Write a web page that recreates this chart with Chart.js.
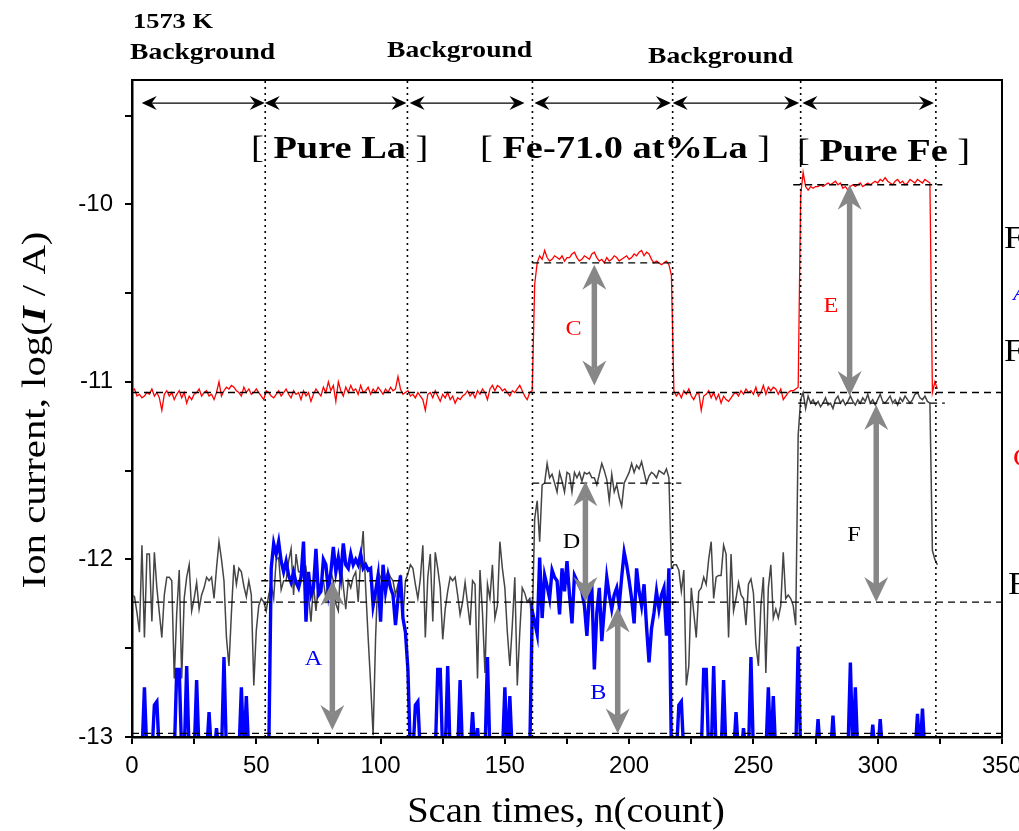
<!DOCTYPE html>
<html>
<head>
<meta charset="utf-8">
<script src="https://cdn.jsdelivr.net/npm/chart.js@4.4.0/dist/chart.umd.min.js"></script>
<style>
  html, body { margin: 0; padding: 0; background: #fff; }
  #wrap { width: 1019px; height: 831px; }
</style>
</head>
<body>
<div id="wrap"><canvas id="ionChart" width="1019" height="831"></canvas></div>
<script>
// log(I/A) per scan, index = scan number (0, 1, 2 ...)
const redCurrent = [
  -11.05,-11.04,-11.08,-11.07,-11.09,-11.08,-11.06,-11.07,-11.04,-11.08,
  -11.06,-11.09,-11.16,-11.07,-11.05,-11.08,-11.06,-11.1,-11.07,-11.05,
  -11.09,-11.06,-11.12,-11.08,-11.1,-11.07,-11.06,-11.04,-11.08,-11.06,
  -11.05,-11.08,-11.07,-11.1,-11.06,-11.0,-11.08,-11.05,-11.03,-11.04,
  -11.02,-11.03,-11.05,-11.06,-11.08,-11.03,-11.06,-11.04,-11.07,-11.06,
  -11.04,-11.06,-11.08,-11.1,-11.05,-11.06,-11.08,-11.09,-11.07,-11.05,
  -11.08,-11.06,-11.04,-11.07,-11.09,-11.05,-11.07,-11.06,-11.1,-11.05,
  -11.08,-11.06,-11.11,-11.07,-11.04,-11.06,-11.08,-11.03,-11.06,-11.0,
  -11.05,-11.02,-11.11,-11.0,-11.05,-11.08,-11.03,-11.06,-11.02,-11.05,
  -11.04,-11.07,-11.02,-11.06,-11.05,-11.03,-11.07,-11.04,-11.06,-11.03,
  -11.05,-11.07,-11.04,-11.06,-11.03,-11.05,-11.04,-10.97,-11.04,-11.07,
  -11.06,-11.05,-11.08,-11.07,-11.09,-11.06,-11.08,-11.1,-11.16,-11.07,
  -11.06,-11.09,-11.05,-11.08,-11.11,-11.07,-11.09,-11.06,-11.1,-11.08,
  -11.12,-11.09,-11.1,-11.08,-11.07,-11.05,-11.08,-11.06,-11.09,-11.05,
  -11.07,-11.04,-11.06,-11.1,-11.04,-11.02,-11.05,-11.02,-11.03,-11.05,
  -11.04,-11.06,-11.08,-11.05,-11.06,-11.04,-11.02,-11.05,-11.08,-11.1,
  -11.06,-11.05,
  -10.45,-10.33,-10.29,-10.31,-10.26,-10.3,-10.32,-10.31,-10.29,-10.3,
  -10.31,-10.29,-10.32,-10.3,-10.3,-10.28,-10.27,-10.3,-10.32,-10.31,
  -10.29,-10.3,-10.31,-10.28,-10.27,-10.3,-10.32,-10.31,-10.33,-10.3,
  -10.32,-10.31,-10.29,-10.3,-10.32,-10.31,-10.3,-10.29,-10.31,-10.3,
  -10.28,-10.29,-10.27,-10.26,-10.29,-10.27,-10.28,-10.31,-10.33,-10.32,
  -10.33,-10.34,-10.33,-10.32,-10.34,-10.4,
  -11.05,-11.08,-11.06,-11.09,-11.05,-11.07,-11.04,-11.08,-11.1,-11.07,
  -11.06,-11.16,-11.08,-11.07,-11.05,-11.09,-11.06,-11.1,-11.07,-11.12,
  -11.08,-11.1,-11.11,-11.09,-11.07,-11.06,-11.08,-11.05,-11.07,-11.04,
  -11.06,-11.05,-11.07,-11.03,-11.08,-11.06,-11.02,-11.07,-11.03,-11.05,
  -11.03,-11.04,-11.07,-11.04,-11.1,-11.08,-11.06,-11.05,-11.05,-11.04,
  -11.03,
  -9.95,
  -9.82,-9.9,-9.92,-9.9,-9.91,-9.9,-9.9,-9.89,-9.9,-9.89,
  -9.88,-9.89,-9.88,-9.87,-9.89,-9.88,-9.91,-9.9,-9.92,-9.9,
  -9.89,-9.9,-9.89,-9.88,-9.9,-9.89,-9.88,-9.89,-9.88,-9.87,
  -9.88,-9.86,-9.87,-9.85,-9.87,-9.88,-9.89,-9.87,-9.86,-9.88,
  -9.87,-9.89,-9.88,-9.86,-9.87,-9.88,-9.86,-9.87,-9.88,-9.86,
  -9.87,-9.88,
  -11.06,-11.0,-11.04
];

const grayCurrent = [
  -12.2,-12.21,-12.3,-12.41,-11.92,-12.44,-11.97,-11.97,-12.35,-11.96,
  -12.16,-12.3,-12.44,-12.2,-12.1,-12.1,-12.12,-12.67,-12.3,-12.06,
  -12.67,-12.22,-12.1,-12.03,-12.29,-12.22,-12.13,-12.28,-12.2,-12.16,
  -12.1,-12.12,-12.1,-12.22,-12.05,-11.9,-12.0,-12.12,-12.44,-12.6,
  -12.3,-12.03,-12.14,-12.05,-12.07,-12.15,-12.21,-12.12,-12.2,-12.71,
  -12.4,-12.26,-12.22,-12.24,-12.29,-12.2,-12.14,-12.22,-12.0,-11.99,
  -12.17,-12.12,-12.12,-12.01,-11.94,-12.2,-11.97,-12.07,-12.07,-12.09,
  -12.05,-12.2,-12.35,-12.14,-12.29,-12.14,-12.14,-12.12,-12.22,-12.1,
  -12.07,-12.12,-12.25,-12.29,-12.01,-12.15,-12.28,-12.12,-12.16,-12.1,
  -12.07,-12.24,-12.0,-11.84,-12.16,-12.44,-12.7,-12.99,-12.44,-12.07,
  -12.1,-12.14,-12.1,-12.07,-12.1,-12.12,-12.2,-12.14,-12.1,-12.33,
  -12.12,
  -12.08,-12.03,-12.05,-12.14,-12.22,-12.11,-11.92,-12.44,-12.1,-11.97,
  -12.35,-11.96,-12.05,-12.16,-12.45,-12.28,-12.18,-12.1,-12.12,-12.1,
  -12.2,-12.31,-12.24,-12.13,-12.25,-12.37,-12.12,-12.14,-12.67,-12.06,
  -12.3,-12.64,-12.14,-12.22,-12.03,-12.33,-12.26,-11.9,-12.05,-12.16,
  -12.41,-12.6,-12.37,-12.1,-12.71,-12.41,-12.16,-12.19,-12.24,-12.22,
  -12.37,
  -11.77,-11.67,-11.9,-11.58,-11.57,-11.46,-11.54,-11.52,-11.57,-11.62,
  -11.51,-11.56,-11.62,-11.51,-11.52,-11.62,-11.51,-11.54,-11.51,-11.56,
  -11.51,-11.52,-11.51,-11.54,-11.54,-11.58,-11.52,-11.46,-11.5,-11.55,
  -11.67,-11.52,-11.62,-11.58,-11.65,-11.7,-11.57,-11.54,-11.51,-11.46,
  -11.51,-11.47,-11.49,-11.45,-11.51,-11.57,-11.53,-11.51,-11.52,-11.54,
  -11.5,-11.51,-11.52,-11.49,-11.54,-12.05,
  -12.03,-12.03,-12.06,-12.18,-12.06,-12.71,-12.6,-12.16,-12.3,-12.44,
  -12.18,-12.16,-12.1,-12.14,-12.0,-11.9,-12.22,-12.1,-12.09,-12.09,
  -11.92,-11.97,-12.44,-11.97,-12.29,-12.22,-12.13,-12.2,-12.22,-12.37,
  -12.14,-12.11,-12.19,-12.48,-12.6,-12.26,-12.1,-12.64,-12.16,-12.03,
  -12.33,-12.28,-12.33,-12.26,-11.96,-12.22,-12.2,-12.22,-12.26,-12.37,
  -11.3,
  -11.1,-11.06,-11.15,-11.08,-11.12,-11.1,-11.13,-11.11,-11.14,-11.12,
  -11.09,-11.13,-11.12,-11.15,-11.1,-11.08,-11.12,-11.1,-11.13,-11.11,
  -11.08,-11.11,-11.13,-11.1,-11.12,-11.09,-11.11,-11.07,-11.12,-11.1,
  -11.13,-11.1,-11.07,-11.11,-11.12,-11.1,-11.08,-11.12,-11.1,-11.13,
  -11.09,-11.11,-11.08,-11.1,-11.12,-11.1,-11.07,-11.06,-11.09,-11.1,
  -11.08,-11.11,-11.12,
  -11.95,-12.0,-12.03
];

// -13.1 = below the axis floor (signal off scale)
const blueCurrent = [
  -13.1,-13.1,-13.1,-13.1,-13.1,-12.72,-13.1,-13.1,-13.1,-12.82,
  -12.8,-13.1,-13.1,-13.1,-13.1,-13.1,-13.1,-13.1,-12.62,-12.62,
  -13.1,-13.1,-12.6,-13.1,-13.1,-13.1,-12.68,-13.1,-13.1,-13.1,
  -13.1,-12.86,-13.1,-13.1,-12.95,-13.1,-13.1,-12.55,-13.1,-13.1,
  -13.1,-13.1,-13.1,-13.1,-12.72,-13.1,-12.77,-13.1,-13.1,-13.1,
  -13.1,-13.1,-13.1,-13.1,-13.1,-13.1,
  -12.05,-11.91,-11.97,-11.9,-12.01,-12.07,-12.01,-12.09,-12.13,-12.07,
  -12.13,-12.16,-12.1,-11.9,-12.35,-12.07,-12.2,-12.16,-11.94,-12.2,
  -12.18,-12.0,-12.03,-12.18,-12.07,-11.93,-12.07,-11.99,-12.09,-11.91,
  -12.03,-12.05,-11.97,-12.03,-12.0,-12.03,-11.97,-12.05,-12.03,-12.06,
  -12.05,-12.26,-12.18,-12.09,-12.35,-12.03,-12.18,-12.09,-12.16,-12.2,
  -12.37,-12.22,-12.09,-12.33,-12.41,
  -12.62,-13.1,
  -13.1,-12.82,-12.8,-13.1,-13.1,-13.1,-13.1,-13.1,-13.1,-13.1,
  -12.62,-12.62,-13.1,-13.1,-12.6,-13.1,-13.1,-13.1,-13.1,-12.68,
  -13.1,-13.1,-13.1,-13.1,-12.86,-13.1,-12.95,-13.1,-13.1,-13.1,
  -12.55,-13.1,-13.1,-13.1,-13.1,-13.1,-13.1,-12.72,-13.1,-12.77,
  -13.1,-13.1,-13.1,-13.1,-13.1,-13.1,-13.1,-13.1,
  -12.29,-12.35,-12.42,-11.99,-12.33,-12.09,-12.15,-12.22,-12.06,-12.1,
  -12.12,-12.31,-12.05,-12.18,-12.01,-12.2,-12.36,-12.09,-12.12,-12.15,
  -12.18,-12.26,-12.43,-12.2,-12.16,-12.62,-12.3,-12.16,-12.46,-12.28,
  -12.1,-12.2,-12.28,-12.2,-12.16,-12.26,-12.1,-11.96,-12.03,-12.12,
  -12.22,-12.36,-12.05,-12.18,-12.26,-12.14,-12.38,-12.58,-12.39,-12.3,
  -12.18,-12.28,-12.2,-12.16,-12.43,-12.05,
  -13.1,
  -13.1,-13.1,-12.82,-12.8,-13.1,-13.1,-13.1,-13.1,-13.1,-13.1,
  -13.1,-13.1,-12.62,-12.62,-13.1,-13.1,-12.6,-13.1,-13.1,-13.1,
  -12.68,-13.1,-13.1,-13.1,-13.1,-12.86,-13.1,-13.1,-12.95,-13.1,
  -13.1,-12.55,-13.1,-13.1,-13.1,-13.1,-13.1,-13.1,-12.72,-13.1,
  -12.77,-13.1,-13.1,-13.1,-13.1,-13.1,-13.1,-13.1,-13.1,-13.1,
  -12.49,-13.1,-13.1,-13.1,-13.1,-13.1,-13.1,-13.1,-12.9,-13.1,
  -13.1,-13.1,-13.1,-13.1,-12.88,-13.1,-13.1,-13.1,-13.1,-13.1,
  -13.1,-12.58,-13.1,-12.72,-13.1,-13.1,-13.1,-13.1,-13.1,-13.1,
  -12.93,-13.1,-13.1,-12.9,-13.1,-13.1,-13.1,-13.1,-13.1,-13.1,
  -13.1,-13.1,-13.1,-13.1,-13.1,-13.1,-13.1,-13.1,-12.87,-13.1,
  -12.84,-13.1,-13.1,-13.1,-13.1,-13.1,-13.1,-13.1
];

// section boundaries (scan number)
const boundaryScans = [53.6, 110.8, 161.1, 217.5, 269, 323.4];

// baseline levels across the whole run
const baseLevels = [-11.06, -12.24, -12.98];
// plateau levels and the scans they cover
const plateauLevels = [-12.12, -10.33, -11.57, -9.89, -11.12];
const plateauFrom = [52, 161, 161, 266, 268];
const plateauTo = [111, 219, 221, 326, 327];

// double arrows of the top bar
const spanFrom = [3.9, 53.4, 111.7, 161.9, 217.5, 269.7];
const spanTo = [53.4, 110.4, 157.9, 216.8, 268.4, 322.6];
const spanLevel = -9.43;

// grey difference arrows A..F
const diffNames = ['A', 'C', 'D', 'B', 'E', 'F'];
const diffScan = [80.6, 186, 182.4, 195.4, 288.7, 299.4];
const diffTop = [-12.12, -10.34, -11.56, -12.27, -9.89, -11.13];
const diffBottom = [-12.96, -11.02, -12.24, -12.98, -11.08, -12.24];
const diffLabelScan = [73, 177.6, 176.8, 187.6, 281.2, 290.5];
const diffLabelLevel = [-12.55, -10.69, -11.89, -12.74, -10.56, -11.85];
const diffColors = ['#0000ff', '#ff0000', '#000000', '#0000ff', '#ff0000', '#000000'];

const xTicks = { min: 0, max: 350, step: 25 };
const yTicks = { min: -13, max: -9.3, step: 0.5 };

const SERIF = '"Liberation Serif", "Times New Roman", serif';
const SANS = '"Liberation Sans", Arial, sans-serif';

const toPoints = (arr) => arr.map((v, i) => ({ x: i, y: v }));
const seg = (x0, x1, y0, y1) => [{ x: x0, y: y0 }, { x: x1, y: y1 }];

const lineBase = { pointRadius: 0, fill: false, tension: 0 };

const datasets = [];
// reference lines go first so they sit on top of the signals
plateauLevels.forEach((lv, i) => {
    datasets.push({ ...lineBase, data: seg(plateauFrom[i], plateauTo[i], lv, lv),
        borderColor: '#000', borderWidth: 1.3, borderDash: [7, 5] });
});
baseLevels.forEach(lv => {
    datasets.push({ ...lineBase, data: seg(0, 350, lv, lv),
        borderColor: '#000', borderWidth: 1.3, borderDash: [7, 5] });
});
datasets.push({ ...lineBase, data: seg(156, 219, baseLevels[1], baseLevels[1]),
    borderColor: '#000', borderWidth: 1.2 });
boundaryScans.forEach(s => {
    datasets.push({ ...lineBase, data: seg(s, s, yTicks.min, yTicks.max),
        borderColor: '#000', borderWidth: 1.6, borderDash: [2, 4] });
});
datasets.push({ ...lineBase, data: toPoints(blueCurrent), borderColor: '#0000ff', borderWidth: 3.4 });
datasets.push({ ...lineBase, data: toPoints(grayCurrent), borderColor: '#454545', borderWidth: 1.5 });
datasets.push({ ...lineBase, data: toPoints(redCurrent), borderColor: '#ff0000', borderWidth: 1.3 });

// text with horizontal stretch, like the original figure
function stretchText(ctx, text, x, y, font, color, align, sx) {
    ctx.save();
    ctx.font = font;
    ctx.fillStyle = color;
    ctx.textBaseline = 'alphabetic';
    ctx.textAlign = 'left';
    const w = ctx.measureText(text).width * sx;
    const left = align === 'center' ? x - w / 2 : (align === 'right' ? x - w : x);
    ctx.translate(left, y);
    ctx.scale(sx, 1);
    ctx.fillText(text, 0, 0);
    ctx.restore();
    return w;
}

// several pieces of text in a row, each with its own font
function richText(ctx, parts, x, y, align, sx) {
    let total = 0;
    parts.forEach(p => { ctx.font = p.font; total += ctx.measureText(p.text).width * sx; });
    let cx = align === 'center' ? x - total / 2 : x;
    parts.forEach(p => {
        cx += stretchText(ctx, p.text, cx, y, p.font, p.color || '#000', 'left', sx);
    });
}

function arrowHead(ctx, tx, ty, dx, dy, len, half, notch) {
    const bx = tx - dx * len, by = ty - dy * len;
    const px = -dy, py = dx;
    ctx.beginPath();
    ctx.moveTo(tx, ty);
    ctx.lineTo(bx + px * half, by + py * half);
    ctx.lineTo(tx - dx * (len - notch), ty - dy * (len - notch));
    ctx.lineTo(bx - px * half, by - py * half);
    ctx.closePath();
    ctx.fill();
}

function doubleArrow(ctx, x0, y0, x1, y1, color, width, len, half, notch) {
    const d = Math.hypot(x1 - x0, y1 - y0);
    const ux = (x1 - x0) / d, uy = (y1 - y0) / d;
    const inset = len - notch;
    ctx.save();
    ctx.strokeStyle = color;
    ctx.fillStyle = color;
    ctx.lineWidth = width;
    ctx.beginPath();
    ctx.moveTo(x0 + ux * inset, y0 + uy * inset);
    ctx.lineTo(x1 - ux * inset, y1 - uy * inset);
    ctx.stroke();
    arrowHead(ctx, x1, y1, ux, uy, len, half, notch);
    arrowHead(ctx, x0, y0, -ux, -uy, len, half, notch);
    ctx.restore();
}

const annotations = {
    id: 'annotations',
    afterDraw(chart) {
        const { ctx, chartArea: a, scales: { x, y } } = chart;

        // frame
        ctx.save();
        ctx.strokeStyle = '#000';
        ctx.lineWidth = 2;
        ctx.strokeRect(a.left, a.top, a.right - a.left, a.bottom - a.top);
        ctx.restore();

        // top bar of double arrows
        const yy = y.getPixelForValue(spanLevel);
        spanFrom.forEach((s, i) => {
            doubleArrow(ctx, x.getPixelForValue(s), yy, x.getPixelForValue(spanTo[i]), yy,
                '#000', 1.4, 15, 7, 5);
        });

        // grey difference arrows and their letters
        diffNames.forEach((name, i) => {
            const px = x.getPixelForValue(diffScan[i]);
            doubleArrow(ctx, px, y.getPixelForValue(diffTop[i]), px, y.getPixelForValue(diffBottom[i]),
                '#878787', 5.5, 25, 12, 8);
            stretchText(ctx, name, x.getPixelForValue(diffLabelScan[i]),
                y.getPixelForValue(diffLabelLevel[i]) + 8, '22px ' + SERIF, diffColors[i], 'center', 1.1);
        });

        // headings above the frame
        const bold23 = 'bold 23px ' + SERIF;
        stretchText(ctx, '1573 K', 133, 28, 'bold 22px ' + SERIF, '#000', 'left', 1.2);
        stretchText(ctx, 'Background', 130, 59, bold23, '#000', 'left', 1.2);
        stretchText(ctx, 'Background', 387, 57, bold23, '#000', 'left', 1.2);
        stretchText(ctx, 'Background', 648, 63, bold23, '#000', 'left', 1.2);

        // sample names
        const reg = '32px ' + SERIF, bold = 'bold 32px ' + SERIF;
        [['Pure La', 251, 158], ['Fe-71.0 at%La', 480, 158], ['Pure Fe', 797, 161]].forEach(([t, lx, ly]) => {
            richText(ctx, [{ text: '[ ', font: reg }, { text: t, font: bold }, { text: ' ]', font: reg }],
                lx, ly, 'left', 1.2);
        });

        // legend text cut by the right edge of the figure
        const big = '32px ' + SERIF;
        stretchText(ctx, 'F', 1004, 248, big, '#000', 'left', 1.1);
        stretchText(ctx, 'A', 1013, 300, 'italic 22px ' + SERIF, '#0000ff', 'left', 1.1);
        stretchText(ctx, 'F', 1004, 361, big, '#000', 'left', 1.1);
        stretchText(ctx, 'C', 1013, 466, '26px ' + SERIF, '#ff0000', 'left', 1.1);
        stretchText(ctx, 'F', 1008, 594, big, '#000', 'left', 1.1);

        // axis titles
        const tFont = '36px ' + SERIF;
        stretchText(ctx, 'Scan times, n(count)', 566, 822, tFont, '#000', 'center', 1.07);

        ctx.save();
        ctx.translate(45, 410);
        ctx.rotate(-Math.PI / 2);
        richText(ctx, [
            { text: 'Ion current, log(', font: '34px ' + SERIF },
            { text: 'I', font: 'italic bold 34px ' + SERIF },
            { text: ' / A)', font: '34px ' + SERIF }
        ], 0, 0, 'center', 1.2);
        ctx.restore();
    }
};

const axisGrid = { drawOnChartArea: false, drawTicks: true, tickLength: 7, color: '#000', lineWidth: 2 };
const axisBorder = { display: true, color: '#000', width: 2.5 };

new Chart(document.getElementById('ionChart').getContext('2d'), {
    type: 'line',
    data: { datasets },
    options: {
        responsive: false,
        animation: false,
        events: [],
        layout: { padding: { top: 80, right: 17, left: 0, bottom: 0 } },
        plugins: { legend: { display: false }, tooltip: { enabled: false } },
        scales: {
            x: {
                type: 'linear', min: xTicks.min, max: xTicks.max,
                grid: axisGrid, border: axisBorder,
                ticks: {
                    stepSize: xTicks.step, autoSkip: false, maxRotation: 0, padding: 8,
                    color: '#000', font: { family: SANS, size: 24 },
                    callback: (v) => (v % 50 === 0 ? String(v) : '')
                },
                afterFit: (s) => { s.height = 94; s.paddingLeft = 0; s.paddingRight = 0; }
            },
            y: {
                type: 'linear', min: yTicks.min, max: yTicks.max,
                grid: axisGrid, border: axisBorder,
                ticks: {
                    stepSize: yTicks.step, includeBounds: false, autoSkip: false, padding: 12,
                    color: '#000', font: { family: SANS, size: 24 },
                    callback: (v) => (Number.isInteger(v) ? String(v) : '')
                },
                afterFit: (s) => { s.width = 132; s.paddingTop = 0; s.paddingBottom = 0; }
            }
        }
    },
    plugins: [annotations]
});
</script>
</body>
</html>
